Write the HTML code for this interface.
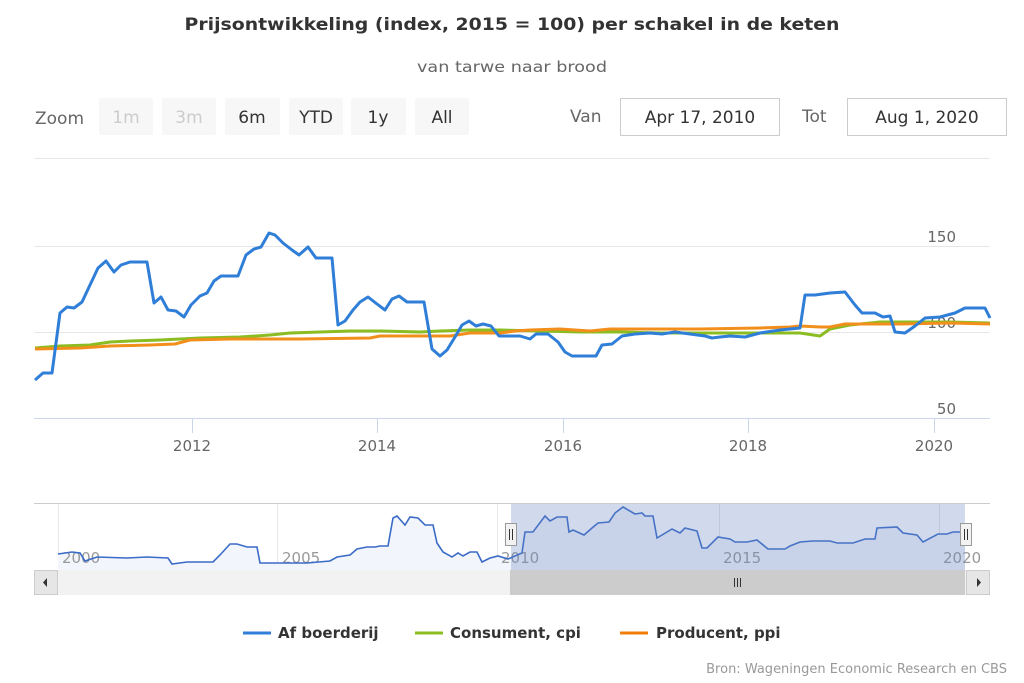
<!DOCTYPE html>
<html><head><meta charset="utf-8"><style>
html,body{margin:0;padding:0;background:#fff;}
svg{display:block;font-family:"DejaVu Sans","Liberation Sans",sans-serif;}
</style></head><body>
<svg width="1024" height="683" viewBox="0 0 1024 683" xmlns="http://www.w3.org/2000/svg">
<rect width="1024" height="683" fill="#fff"/>
<text x="512" y="30" text-anchor="middle" font-size="17" font-weight="bold" fill="#333" textLength="655" lengthAdjust="spacingAndGlyphs">Prijsontwikkeling (index, 2015 = 100) per schakel in de keten</text>
<text x="512" y="72" text-anchor="middle" font-size="15" fill="#666" textLength="190" lengthAdjust="spacingAndGlyphs">van tarwe naar brood</text>

<!-- range selector -->
<text x="35" y="124" font-size="17" fill="#666">Zoom</text>
<g font-size="17" text-anchor="middle">
<rect x="99" y="98" width="54" height="37" rx="2" fill="#f7f7f7"/><text x="126" y="123" fill="#ccc">1m</text>
<rect x="162" y="98" width="54" height="37" rx="2" fill="#f7f7f7"/><text x="189" y="123" fill="#ccc">3m</text>
<rect x="225" y="98" width="55" height="37" rx="2" fill="#f7f7f7"/><text x="252" y="123" fill="#333">6m</text>
<rect x="289" y="98" width="54" height="37" rx="2" fill="#f7f7f7"/><text x="316" y="123" fill="#333">YTD</text>
<rect x="351" y="98" width="55" height="37" rx="2" fill="#f7f7f7"/><text x="378" y="123" fill="#333">1y</text>
<rect x="415" y="98" width="54" height="37" rx="2" fill="#f7f7f7"/><text x="442" y="123" fill="#333">All</text>
</g>
<text x="570" y="122" font-size="17" fill="#666">Van</text>
<rect x="620.5" y="98.5" width="159" height="37" fill="#fff" stroke="#ccc"/>
<text x="700" y="123" font-size="17" fill="#333" text-anchor="middle">Apr 17, 2010</text>
<text x="802" y="122" font-size="17" fill="#666">Tot</text>
<rect x="847.5" y="98.5" width="159" height="37" fill="#fff" stroke="#ccc"/>
<text x="927" y="123" font-size="17" fill="#333" text-anchor="middle">Aug 1, 2020</text>

<!-- main grid -->
<g stroke="#e6e6e6" stroke-width="1">
<line x1="34" y1="158.5" x2="990" y2="158.5"/>
<line x1="34" y1="246.5" x2="990" y2="246.5"/>
<line x1="34" y1="332.5" x2="990" y2="332.5"/>
</g>
<line x1="34" y1="418.5" x2="990" y2="418.5" stroke="#ccd6eb"/>
<g stroke="#ccd6eb"><line x1="192.5" y1="418" x2="192.5" y2="433"/><line x1="377.5" y1="418" x2="377.5" y2="433"/><line x1="563.5" y1="418" x2="563.5" y2="433"/><line x1="748.5" y1="418" x2="748.5" y2="433"/><line x1="934.5" y1="418" x2="934.5" y2="433"/></g>
<g font-size="15" fill="#666" text-anchor="middle">
<text x="192" y="451">2012</text><text x="377" y="451">2014</text><text x="563" y="451">2016</text><text x="748" y="451">2018</text><text x="934" y="451">2020</text>
</g>
<g font-size="15" fill="#666" text-anchor="end">
<text x="956" y="242">150</text><text x="956" y="328">100</text><text x="956" y="414">50</text>
</g>

<g fill="none" stroke-width="3" stroke-linejoin="round">
<polyline stroke="#8bbc21" points="35,348 60,346 90,345 110,342 130,341 160,340 200,338 240,337 270,335 290,333 320,332 350,331 380,331 420,332 440,331 470,330 500,330 540,331 580,332 620,332 660,333 700,333 740,333 780,333 800,333 820,336 830,329 850,325 880,322 920,322 950,322 990,323"/>
<polyline stroke="#f28f1c" stroke="#f07d0a" points="35,349 80,348 110,346 150,345 175,344 190,340 230,339 300,339 370,338 380,336 420,336 450,336 470,333 500,333 515,331 530,330 560,329 575,330 590,331 610,329 700,329 760,328 790,327 800,326 820,327 830,327 845,324 870,324 900,324 950,323 990,324"/>
<polyline stroke="#2f7ed8" points="35,380 43,373 52,373 60,313 67,307 74,308 82,302 90,285 98,268 106,261 114,272 121,265 130,262 147,262 154,303 161,297 168,310 176,311 184,317 191,305 200,296 207,293 214,281 221,276 238,276 246,255 254,249 261,247 269,233 275,235 283,243 292,250 299,255 308,247 316,258 332,258 338,325 345,321 353,310 360,302 368,297 377,304 385,310 392,299 399,296 407,302 424,302 432,349 440,356 447,350 455,337 462,325 469,321 476,326 483,324 491,326 499,336 520,336 530,339 536,334 548,334 558,342 565,352 572,356 580,356 596,356 602,345 612,344 622,336 635,334 650,333 662,334 675,332 690,334 705,336 712,338 720,337 730,336 745,337 760,333 780,330 800,328 805,295 815,295 830,293 845,292 855,305 862,313 875,313 883,317 890,316 895,332 905,333 915,326 925,318 940,317 955,313 965,308 985,308 990,318"/>
</g>

<!-- navigator -->
<line x1="34" y1="503.5" x2="990" y2="503.5" stroke="#cccccc"/>
<g stroke="#e6e6e6"><line x1="58.5" y1="504" x2="58.5" y2="570"/><line x1="277.5" y1="504" x2="277.5" y2="570"/><line x1="497.5" y1="504" x2="497.5" y2="570"/><line x1="719.5" y1="504" x2="719.5" y2="570"/><line x1="939.5" y1="504" x2="939.5" y2="570"/></g>
<polygon fill="#f2f5fb" stroke="none" points="58,554 72,552 80,553 85,561 97,557 127,558 147,557 168,558 172,564 187,562 213,562 220,555 230,544 237,544 247,547 257,547 260,563 307,563 330,561 337,557 350,555 357,549 367,547 375,547 380,546 388,546 393,518 397,516 405,525 410,517 418,518 425,525 433,525 437,543 443,552 452,557 458,553 463,556 470,552 477,552 482,562 490,558 498,556 508,559 522,553 525,532 533,532 545,516 550,521 557,517 567,517 569,532 573,530 584,535 592,528 598,523 609,522 615,513 623,507 635,514 642,513 645,516 653,516 657,538 672,529 680,533 685,528 697,531 702,548 707,548 718,537 730,539 735,542 747,542 757,540 768,549 785,549 790,546 800,542 813,541 830,541 837,543 853,543 865,539 875,539 877,528 897,527 903,533 917,535 923,542 938,534 947,534 953,532 965,532 965,570 58,570"/>
<g font-size="15" fill="#999">
<text x="62" y="563">2000</text><text x="282" y="563">2005</text><text x="501" y="563">2010</text><text x="723" y="563">2015</text><text x="943" y="563">2020</text>
</g>
<polyline fill="none" stroke="#3a6bc6" stroke-width="1.6" points="58,554 72,552 80,553 85,561 97,557 127,558 147,557 168,558 172,564 187,562 213,562 220,555 230,544 237,544 247,547 257,547 260,563 307,563 330,561 337,557 350,555 357,549 367,547 375,547 380,546 388,546 393,518 397,516 405,525 410,517 418,518 425,525 433,525 437,543 443,552 452,557 458,553 463,556 470,552 477,552 482,562 490,558 498,556 508,559 522,553 525,532 533,532 545,516 550,521 557,517 567,517 569,532 573,530 584,535 592,528 598,523 609,522 615,513 623,507 635,514 642,513 645,516 653,516 657,538 672,529 680,533 685,528 697,531 702,548 707,548 718,537 730,539 735,542 747,542 757,540 768,549 785,549 790,546 800,542 813,541 830,541 837,543 853,543 865,539 875,539 877,528 897,527 903,533 917,535 923,542 938,534 947,534 953,532 965,532"/>
<rect x="511" y="504" width="454" height="66" fill="rgba(102,133,194,0.3)"/>
<rect x="505.5" y="523.5" width="11" height="22" fill="#f2f2f2" stroke="#999"/>
<line x1="509.5" y1="529" x2="509.5" y2="540" stroke="#333"/><line x1="512.5" y1="529" x2="512.5" y2="540" stroke="#333"/>
<rect x="960.5" y="523.5" width="11" height="22" fill="#f2f2f2" stroke="#999"/>
<line x1="964.5" y1="529" x2="964.5" y2="540" stroke="#333"/><line x1="967.5" y1="529" x2="967.5" y2="540" stroke="#333"/>

<!-- scrollbar -->
<rect x="34" y="570" width="956" height="25" fill="#f2f2f2"/>
<rect x="34.5" y="570.5" width="23" height="24" fill="#e6e6e6" stroke="#ccc"/>
<polygon points="43,582.5 47,578 47,587" fill="#333"/>
<rect x="510" y="570" width="455" height="25" fill="#cccccc"/>
<rect x="966.5" y="570.5" width="23" height="24" fill="#e6e6e6" stroke="#ccc"/>
<polygon points="981,582.5 977,578 977,587" fill="#333"/>
<g stroke="#333"><line x1="734.5" y1="578" x2="734.5" y2="587"/><line x1="737.5" y1="578" x2="737.5" y2="587"/><line x1="740.5" y1="578" x2="740.5" y2="587"/></g>

<!-- legend -->
<g font-size="15" font-weight="bold" fill="#333">
<line x1="243" y1="633" x2="271" y2="633" stroke="#2f7ed8" stroke-width="3"/>
<text x="278" y="638">Af boerderij</text>
<line x1="415" y1="633" x2="443" y2="633" stroke="#8bbc21" stroke-width="3"/>
<text x="450" y="638">Consument, cpi</text>
<line x1="620" y1="633" x2="648" y2="633" stroke="#f07d0a" stroke-width="3"/>
<text x="656" y="638">Producent, ppi</text>
</g>
<text x="1007" y="673" font-size="13" fill="#999" text-anchor="end">Bron: Wageningen Economic Research en CBS</text>
</svg>
</body></html>
